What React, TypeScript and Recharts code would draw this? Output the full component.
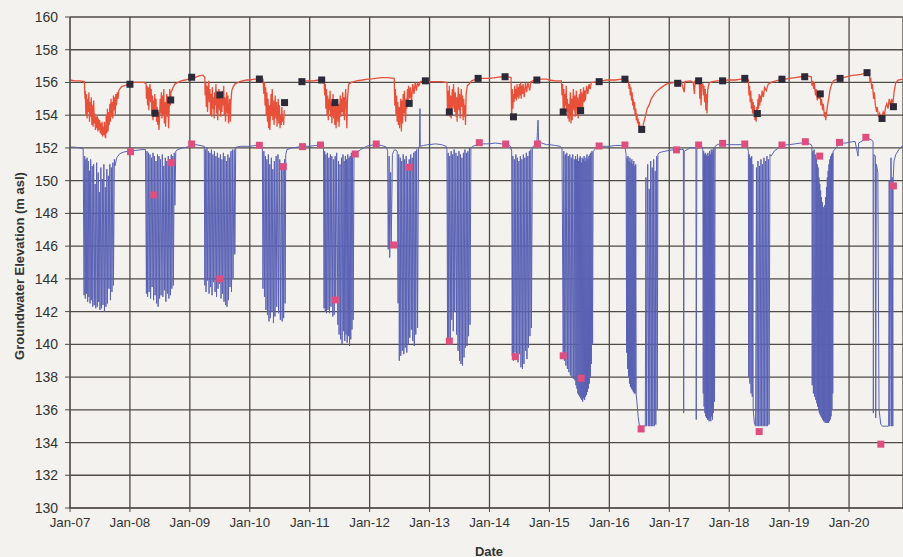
import { ComposedChart, Line, XAxis, YAxis, CartesianGrid } from "recharts";

type Pt = [number, number];

// deep piezometer (blue), read season by season
const blue07: Pt[] = [[2007.0,152.05],[2007.08,152.05],[2007.16,152.0],[2007.22,151.95],[2007.235,143.0],[2007.245,151.5],[2007.255,142.8],[2007.265,151.3],[2007.275,143.1],[2007.285,151.4],[2007.295,142.6],[2007.305,151.2],[2007.315,142.9],[2007.325,150.6],[2007.335,142.5],[2007.345,151.3],[2007.355,142.7],[2007.37,150.9],[2007.38,142.3],[2007.395,151.0],[2007.405,142.4],[2007.42,149.8],[2007.43,142.2],[2007.445,151.1],[2007.455,142.3],[2007.47,150.5],[2007.48,142.6],[2007.49,149.3],[2007.5,142.1],[2007.515,150.8],[2007.525,142.2],[2007.54,150.1],[2007.55,142.4],[2007.565,151.0],[2007.575,142.0],[2007.59,149.6],[2007.6,142.3],[2007.615,150.7],[2007.625,142.5],[2007.64,150.3],[2007.65,143.4],[2007.665,151.0],[2007.675,142.7],[2007.69,150.8],[2007.7,143.2],[2007.715,151.1],[2007.725,143.6],[2007.74,151.3],[2007.75,150.9],[2007.78,151.4],[2007.83,151.65],[2007.9,151.75],[2007.97,151.8]];
const blue08: Pt[] = [[2008.0,151.8],[2008.1,151.85],[2008.2,151.9],[2008.26,151.9],[2008.275,143.1],[2008.285,151.8],[2008.295,142.9],[2008.31,151.7],[2008.32,143.2],[2008.335,151.6],[2008.345,142.8],[2008.36,151.4],[2008.37,143.5],[2008.385,151.7],[2008.395,142.7],[2008.41,151.5],[2008.42,143.0],[2008.435,151.2],[2008.445,142.5],[2008.46,151.6],[2008.47,142.3],[2008.485,151.5],[2008.495,142.8],[2008.51,151.3],[2008.52,143.0],[2008.54,151.6],[2008.55,142.9],[2008.565,150.9],[2008.575,143.3],[2008.59,151.4],[2008.6,142.6],[2008.615,151.2],[2008.625,143.1],[2008.64,151.5],[2008.65,142.8],[2008.665,151.3],[2008.675,143.0],[2008.69,151.6],[2008.7,143.4],[2008.715,151.5],[2008.725,143.6],[2008.74,151.7],[2008.75,148.5],[2008.765,151.8],[2008.8,151.9],[2008.88,152.0],[2008.95,152.05]];
const blue09: Pt[] = [[2009.0,152.1],[2009.05,152.25],[2009.1,152.2],[2009.17,152.15],[2009.24,152.1],[2009.25,143.6],[2009.26,151.9],[2009.27,143.2],[2009.285,152.0],[2009.295,143.9],[2009.31,151.8],[2009.32,143.1],[2009.335,151.7],[2009.345,143.5],[2009.36,151.9],[2009.37,143.0],[2009.385,151.6],[2009.395,143.8],[2009.41,151.8],[2009.42,143.2],[2009.435,151.5],[2009.445,142.9],[2009.46,151.7],[2009.47,143.4],[2009.485,151.4],[2009.495,143.7],[2009.51,151.6],[2009.52,142.8],[2009.535,151.3],[2009.545,143.1],[2009.56,151.7],[2009.57,142.6],[2009.585,151.5],[2009.595,142.4],[2009.61,151.2],[2009.62,142.3],[2009.635,151.6],[2009.645,142.7],[2009.66,151.4],[2009.67,143.5],[2009.685,151.8],[2009.695,143.2],[2009.71,151.9],[2009.72,144.0],[2009.74,151.9],[2009.75,145.5],[2009.765,152.0],[2009.78,152.05],[2009.85,152.1],[2009.95,152.1]];
const blue10: Pt[] = [[2010.0,152.1],[2010.1,152.15],[2010.18,152.1],[2010.21,152.0],[2010.22,143.4],[2010.235,151.8],[2010.245,142.9],[2010.26,151.5],[2010.27,142.1],[2010.285,151.3],[2010.295,141.8],[2010.31,151.6],[2010.32,141.4],[2010.335,151.0],[2010.345,141.6],[2010.36,151.4],[2010.37,142.0],[2010.385,150.7],[2010.395,141.3],[2010.41,151.2],[2010.42,141.7],[2010.44,151.5],[2010.45,142.3],[2010.47,151.6],[2010.48,141.9],[2010.5,151.3],[2010.51,141.5],[2010.53,150.9],[2010.54,141.4],[2010.555,150.8],[2010.565,141.6],[2010.58,151.3],[2010.59,142.5],[2010.6,151.6],[2010.62,151.9],[2010.7,152.0],[2010.8,152.05],[2010.9,152.1]];
const blue11: Pt[] = [[2011.0,152.1],[2011.1,152.15],[2011.2,152.15],[2011.23,152.0],[2011.24,142.2],[2011.25,151.8],[2011.26,142.0],[2011.27,151.6],[2011.28,141.9],[2011.295,151.7],[2011.305,142.1],[2011.32,151.4],[2011.33,141.9],[2011.345,151.6],[2011.355,142.3],[2011.37,151.5],[2011.385,141.7],[2011.4,151.3],[2011.41,141.8],[2011.425,151.5],[2011.435,142.6],[2011.45,151.7],[2011.47,141.2],[2011.48,151.2],[2011.49,140.6],[2011.505,151.0],[2011.515,140.3],[2011.53,151.4],[2011.54,140.0],[2011.555,151.6],[2011.565,140.8],[2011.575,151.2],[2011.585,140.2],[2011.595,151.5],[2011.605,140.6],[2011.615,151.3],[2011.625,140.1],[2011.635,151.6],[2011.645,140.5],[2011.655,151.4],[2011.665,139.9],[2011.675,151.5],[2011.685,140.3],[2011.695,151.7],[2011.705,140.9],[2011.715,151.6],[2011.725,141.5],[2011.74,151.7],[2011.76,151.65],[2011.85,151.9],[2011.95,152.1]];
const blue12: Pt[] = [[2012.0,152.15],[2012.1,152.2],[2012.2,152.15],[2012.28,152.05],[2012.3,151.8],[2012.31,145.8],[2012.325,151.5],[2012.335,145.3],[2012.35,150.5],[2012.36,146.0],[2012.38,151.6],[2012.4,151.8],[2012.42,151.9],[2012.46,151.8],[2012.475,142.5],[2012.485,151.6],[2012.495,139.0],[2012.51,151.4],[2012.52,139.3],[2012.535,151.2],[2012.545,139.6],[2012.56,151.6],[2012.57,139.4],[2012.585,151.3],[2012.595,139.8],[2012.61,151.5],[2012.62,139.5],[2012.635,151.0],[2012.645,140.0],[2012.66,151.3],[2012.67,140.4],[2012.685,151.6],[2012.695,140.9],[2012.71,151.4],[2012.72,140.2],[2012.735,151.7],[2012.745,139.9],[2012.76,151.8],[2012.77,140.6],[2012.785,151.9],[2012.8,141.0],[2012.815,152.0],[2012.83,152.0],[2012.84,154.4],[2012.845,152.1],[2012.9,152.15],[2012.97,152.2]];
const blue13: Pt[] = [[2013.0,152.2],[2013.1,152.25],[2013.2,152.2],[2013.28,152.1],[2013.29,151.9],[2013.3,140.3],[2013.31,151.7],[2013.32,140.0],[2013.335,151.5],[2013.345,140.4],[2013.36,151.8],[2013.37,141.5],[2013.385,151.6],[2013.395,140.8],[2013.41,151.9],[2013.42,142.0],[2013.44,151.7],[2013.45,140.6],[2013.465,151.5],[2013.475,139.6],[2013.49,151.8],[2013.5,139.0],[2013.515,151.6],[2013.525,138.8],[2013.54,151.4],[2013.55,138.7],[2013.565,151.7],[2013.575,139.2],[2013.59,151.9],[2013.6,139.8],[2013.615,151.7],[2013.625,139.9],[2013.64,151.8],[2013.65,140.5],[2013.665,152.0],[2013.675,141.2],[2013.69,152.0],[2013.72,152.1],[2013.8,152.2],[2013.9,152.25]];
const blue14: Pt[] = [[2014.0,152.25],[2014.1,152.3],[2014.2,152.25],[2014.3,152.2],[2014.35,152.1],[2014.37,151.8],[2014.38,139.3],[2014.39,151.5],[2014.4,139.0],[2014.415,151.3],[2014.425,139.5],[2014.44,151.6],[2014.45,139.2],[2014.465,151.4],[2014.475,138.9],[2014.49,151.2],[2014.5,139.4],[2014.515,151.5],[2014.525,138.6],[2014.54,151.3],[2014.55,138.5],[2014.565,151.6],[2014.575,138.8],[2014.59,151.4],[2014.6,139.6],[2014.615,151.7],[2014.625,139.1],[2014.64,151.5],[2014.65,139.8],[2014.665,151.8],[2014.675,140.5],[2014.69,151.9],[2014.7,141.0],[2014.715,152.0],[2014.73,152.1],[2014.76,152.2],[2014.79,152.3],[2014.8,153.0],[2014.81,153.7],[2014.82,152.4],[2014.87,152.3],[2014.95,152.2]];
const blue15: Pt[] = [[2015.0,152.2],[2015.1,152.15],[2015.18,152.1],[2015.21,152.0],[2015.23,139.5],[2015.24,151.8],[2015.25,139.0],[2015.265,151.6],[2015.275,138.7],[2015.29,151.7],[2015.3,138.5],[2015.315,151.5],[2015.325,138.3],[2015.34,151.6],[2015.35,138.1],[2015.365,151.4],[2015.375,138.0],[2015.39,151.6],[2015.4,137.9],[2015.415,151.3],[2015.425,137.8],[2015.435,151.5],[2015.443,137.5],[2015.451,151.3],[2015.459,137.3],[2015.467,151.6],[2015.475,137.0],[2015.483,151.2],[2015.491,136.9],[2015.499,151.4],[2015.507,136.8],[2015.515,151.5],[2015.523,136.7],[2015.531,151.1],[2015.539,136.6],[2015.547,151.4],[2015.555,136.5],[2015.563,151.3],[2015.571,136.7],[2015.579,151.5],[2015.587,136.6],[2015.595,151.2],[2015.603,136.8],[2015.611,151.4],[2015.619,136.9],[2015.627,151.6],[2015.635,137.1],[2015.643,151.3],[2015.651,137.3],[2015.659,151.5],[2015.667,137.6],[2015.675,151.6],[2015.683,138.0],[2015.691,151.7],[2015.7,138.8],[2015.71,151.8],[2015.72,140.0],[2015.73,151.8],[2015.76,151.9],[2015.8,152.05],[2015.85,152.1],[2015.95,152.1]];
const blue16: Pt[] = [[2016.0,152.1],[2016.1,152.15],[2016.2,152.15],[2016.26,152.1],[2016.28,151.6],[2016.288,139.5],[2016.296,151.4],[2016.304,138.5],[2016.312,151.5],[2016.32,138.0],[2016.328,151.2],[2016.336,137.6],[2016.344,151.4],[2016.352,137.4],[2016.36,151.1],[2016.368,137.3],[2016.376,151.3],[2016.384,137.2],[2016.392,151.0],[2016.4,137.1],[2016.408,151.2],[2016.416,137.0],[2016.424,150.9],[2016.432,137.0],[2016.44,151.0],[2016.448,136.9],[2016.46,136.5],[2016.48,135.6],[2016.5,135.05],[2016.53,135.0],[2016.58,135.0],[2016.6,135.0],[2016.61,150.2],[2016.62,135.0],[2016.64,151.0],[2016.65,135.0],[2016.665,149.5],[2016.675,135.0],[2016.69,151.2],[2016.7,135.0],[2016.715,150.8],[2016.725,135.0],[2016.74,151.3],[2016.75,135.0],[2016.765,150.6],[2016.775,135.1],[2016.79,151.5],[2016.8,136.0],[2016.81,151.6],[2016.83,151.7],[2016.87,151.75],[2016.93,151.8]];
const blue17: Pt[] = [[2017.0,151.85],[2017.1,151.9],[2017.2,151.9],[2017.235,151.9],[2017.24,135.8],[2017.25,151.8],[2017.3,151.9],[2017.35,152.0],[2017.4,152.0],[2017.445,152.0],[2017.45,135.4],[2017.46,151.9],[2017.5,152.1],[2017.54,152.1],[2017.56,151.9],[2017.567,137.0],[2017.574,151.8],[2017.581,136.2],[2017.588,151.6],[2017.595,135.8],[2017.602,151.7],[2017.609,135.6],[2017.616,151.5],[2017.623,135.5],[2017.63,151.6],[2017.637,135.4],[2017.644,151.7],[2017.651,135.4],[2017.658,151.5],[2017.665,135.3],[2017.672,151.8],[2017.679,135.5],[2017.686,151.6],[2017.693,135.3],[2017.7,151.9],[2017.707,135.6],[2017.714,151.7],[2017.721,135.4],[2017.728,151.9],[2017.735,135.8],[2017.745,152.0],[2017.755,136.5],[2017.765,152.1],[2017.8,152.2],[2017.85,152.25],[2017.9,152.25],[2017.95,152.2]];
const blue18: Pt[] = [[2018.0,152.2],[2018.1,152.2],[2018.2,152.2],[2018.26,152.2],[2018.3,152.1],[2018.32,151.8],[2018.325,138.0],[2018.335,151.6],[2018.345,137.6],[2018.355,151.4],[2018.365,137.0],[2018.375,151.5],[2018.385,136.8],[2018.395,151.0],[2018.4,136.0],[2018.42,135.2],[2018.44,135.0],[2018.455,150.8],[2018.465,135.0],[2018.48,151.2],[2018.49,135.0],[2018.505,150.9],[2018.515,135.0],[2018.53,151.3],[2018.54,135.0],[2018.555,151.0],[2018.565,135.0],[2018.58,151.4],[2018.59,135.0],[2018.605,151.2],[2018.615,135.0],[2018.63,151.5],[2018.64,135.0],[2018.655,151.3],[2018.665,135.1],[2018.68,151.6],[2018.7,151.5],[2018.75,151.8],[2018.82,152.0],[2018.9,152.15],[2018.97,152.2]];
const blue19: Pt[] = [[2019.0,152.2],[2019.1,152.25],[2019.2,152.3],[2019.3,152.3],[2019.37,152.2],[2019.38,152.1],[2019.385,137.5],[2019.395,151.8],[2019.405,137.0],[2019.415,151.9],[2019.425,136.8],[2019.435,151.6],[2019.445,136.6],[2019.455,151.4],[2019.462,136.4],[2019.469,151.0],[2019.476,136.2],[2019.483,150.8],[2019.49,136.0],[2019.497,150.2],[2019.504,135.8],[2019.511,149.8],[2019.518,135.7],[2019.525,149.4],[2019.532,135.6],[2019.539,149.0],[2019.546,135.5],[2019.553,148.7],[2019.56,135.4],[2019.567,148.4],[2019.574,135.3],[2019.581,148.3],[2019.588,135.3],[2019.595,148.5],[2019.602,135.2],[2019.609,149.0],[2019.616,135.2],[2019.623,149.6],[2019.63,135.2],[2019.637,150.2],[2019.644,135.2],[2019.651,150.6],[2019.658,135.2],[2019.665,151.0],[2019.672,135.3],[2019.679,151.3],[2019.686,135.4],[2019.693,151.5],[2019.7,135.6],[2019.707,151.6],[2019.714,136.0],[2019.721,151.7],[2019.728,137.0],[2019.735,151.8],[2019.76,151.9],[2019.8,152.1],[2019.87,152.3],[2019.95,152.3]];
const blue20: Pt[] = [[2020.0,152.35],[2020.1,152.4],[2020.15,151.5],[2020.16,152.3],[2020.25,152.5],[2020.3,152.6],[2020.37,152.5],[2020.4,152.4],[2020.405,135.8],[2020.415,151.6],[2020.44,151.5],[2020.445,135.5],[2020.455,151.0],[2020.48,150.5],[2020.5,136.0],[2020.53,135.1],[2020.56,135.0],[2020.62,135.0],[2020.66,135.0],[2020.67,150.0],[2020.68,135.0],[2020.7,151.4],[2020.71,135.0],[2020.72,150.2],[2020.73,135.0],[2020.735,150.0],[2020.75,151.2],[2020.78,151.6],[2020.83,151.9],[2020.88,152.1],[2020.95,152.1]];

// shallow piezometer (red)
const red07: Pt[] = [[2007.0,156.15],[2007.08,156.1],[2007.16,156.1],[2007.24,156.05],[2007.25,155.0],[2007.255,155.5],[2007.265,154.0],[2007.275,155.3],[2007.285,153.8],[2007.295,155.0],[2007.305,154.2],[2007.315,155.4],[2007.325,153.6],[2007.335,154.8],[2007.345,153.9],[2007.355,155.1],[2007.365,153.4],[2007.375,154.6],[2007.385,153.3],[2007.395,154.9],[2007.405,153.5],[2007.415,154.1],[2007.425,153.1],[2007.435,153.9],[2007.445,153.2],[2007.455,154.0],[2007.465,153.0],[2007.475,153.8],[2007.485,153.1],[2007.495,153.7],[2007.505,152.9],[2007.515,153.5],[2007.525,152.8],[2007.535,153.6],[2007.545,152.7],[2007.555,153.3],[2007.565,152.8],[2007.575,153.6],[2007.585,152.7],[2007.595,152.6],[2007.605,154.0],[2007.615,152.9],[2007.625,154.4],[2007.635,153.0],[2007.645,154.2],[2007.655,153.4],[2007.665,154.7],[2007.675,153.6],[2007.685,155.0],[2007.695,153.9],[2007.705,154.8],[2007.715,153.8],[2007.725,155.2],[2007.735,154.3],[2007.745,155.1],[2007.755,154.0],[2007.765,155.3],[2007.775,154.6],[2007.79,155.4],[2007.8,155.0],[2007.815,155.5],[2007.83,155.6],[2007.86,155.75],[2007.91,155.8],[2007.97,155.9]];
const red08: Pt[] = [[2008.0,155.95],[2008.08,156.0],[2008.16,156.0],[2008.24,156.0],[2008.27,155.9],[2008.275,155.0],[2008.285,155.8],[2008.295,154.6],[2008.305,155.7],[2008.315,154.3],[2008.325,155.5],[2008.335,155.9],[2008.345,154.8],[2008.355,155.6],[2008.365,154.0],[2008.375,155.2],[2008.385,153.7],[2008.395,154.9],[2008.405,153.9],[2008.415,155.3],[2008.425,154.2],[2008.435,155.0],[2008.445,153.6],[2008.455,154.5],[2008.465,153.4],[2008.475,154.2],[2008.485,153.1],[2008.495,153.9],[2008.505,155.0],[2008.515,154.1],[2008.525,155.4],[2008.535,153.8],[2008.545,155.2],[2008.555,154.0],[2008.565,155.6],[2008.575,153.5],[2008.585,154.8],[2008.595,153.3],[2008.605,154.5],[2008.615,155.3],[2008.625,153.9],[2008.635,155.0],[2008.645,153.2],[2008.655,154.4],[2008.665,155.6],[2008.675,154.6],[2008.685,155.4],[2008.7,155.5],[2008.72,155.7],[2008.75,155.9],[2008.8,156.0],[2008.85,156.1],[2008.92,156.15],[2008.98,156.2]];
const red09: Pt[] = [[2009.0,156.3],[2009.08,156.3],[2009.15,156.4],[2009.22,156.45],[2009.25,156.3],[2009.255,155.2],[2009.265,156.0],[2009.275,154.5],[2009.285,155.8],[2009.295,154.2],[2009.305,155.5],[2009.315,156.1],[2009.325,154.8],[2009.335,155.6],[2009.345,154.0],[2009.355,155.3],[2009.365,153.9],[2009.375,155.7],[2009.385,154.4],[2009.395,155.1],[2009.405,153.8],[2009.415,155.4],[2009.425,154.6],[2009.435,155.9],[2009.445,154.1],[2009.455,155.2],[2009.465,153.7],[2009.475,154.9],[2009.485,155.6],[2009.495,154.3],[2009.505,155.3],[2009.515,153.9],[2009.525,155.0],[2009.535,154.2],[2009.545,155.5],[2009.555,154.6],[2009.565,155.8],[2009.575,154.0],[2009.585,155.1],[2009.595,153.6],[2009.605,154.7],[2009.615,155.4],[2009.625,154.1],[2009.635,155.2],[2009.645,153.5],[2009.655,154.4],[2009.665,155.0],[2009.675,153.6],[2009.685,154.8],[2009.7,155.5],[2009.72,155.7],[2009.75,155.9],[2009.8,156.0],[2009.87,156.1],[2009.95,156.15]];
const red10: Pt[] = [[2010.0,156.15],[2010.08,156.2],[2010.16,156.2],[2010.22,156.2],[2010.235,155.3],[2010.245,156.0],[2010.255,154.6],[2010.265,155.7],[2010.275,154.0],[2010.285,155.4],[2010.295,153.6],[2010.305,155.0],[2010.315,153.2],[2010.325,154.6],[2010.335,153.1],[2010.345,154.2],[2010.355,155.3],[2010.365,154.0],[2010.375,155.6],[2010.385,153.7],[2010.395,154.9],[2010.405,153.4],[2010.415,154.5],[2010.425,155.2],[2010.435,153.8],[2010.445,154.8],[2010.455,153.3],[2010.465,154.3],[2010.475,155.0],[2010.485,153.5],[2010.495,154.6],[2010.505,153.2],[2010.515,154.0],[2010.525,153.4],[2010.535,154.5],[2010.545,153.6],[2010.555,153.9],[2010.565,153.4],[2010.575,154.3]];
const red11: Pt[] = [[2010.85,156.05],[2010.95,156.1],[2011.05,156.1],[2011.15,156.15],[2011.24,156.1],[2011.25,155.2],[2011.26,155.9],[2011.27,154.4],[2011.28,155.6],[2011.29,154.0],[2011.3,155.2],[2011.31,153.7],[2011.32,155.0],[2011.33,154.3],[2011.34,155.5],[2011.35,153.9],[2011.36,154.8],[2011.37,153.5],[2011.38,154.5],[2011.39,155.3],[2011.4,153.8],[2011.41,154.9],[2011.42,153.4],[2011.43,154.6],[2011.44,153.2],[2011.45,154.2],[2011.46,155.0],[2011.47,153.6],[2011.48,154.7],[2011.49,153.3],[2011.5,154.4],[2011.51,155.2],[2011.52,153.9],[2011.53,155.0],[2011.54,154.2],[2011.55,155.4],[2011.56,154.0],[2011.57,155.1],[2011.58,153.7],[2011.59,154.9],[2011.6,155.6],[2011.62,153.2],[2011.63,155.0],[2011.65,155.9],[2011.7,156.0],[2011.78,156.1],[2011.88,156.15],[2011.97,156.2]];
const red12: Pt[] = [[2012.0,156.2],[2012.1,156.25],[2012.2,156.3],[2012.3,156.3],[2012.41,156.25],[2012.42,154.6],[2012.43,155.6],[2012.44,154.0],[2012.45,155.2],[2012.46,153.6],[2012.47,154.8],[2012.48,153.4],[2012.49,154.5],[2012.5,153.2],[2012.51,154.2],[2012.52,155.0],[2012.53,153.0],[2012.54,154.9],[2012.55,153.5],[2012.56,155.3],[2012.57,154.1],[2012.58,155.5],[2012.59,154.3],[2012.6,153.6],[2012.61,155.0],[2012.62,154.4],[2012.63,155.6],[2012.64,154.6],[2012.65,155.8],[2012.67,155.0],[2012.68,155.7],[2012.7,154.9],[2012.72,155.9],[2012.74,155.3],[2012.76,156.0],[2012.78,155.5],[2012.8,156.0],[2012.82,155.8],[2012.85,156.05],[2012.9,156.1],[2012.96,156.05]];
const red13: Pt[] = [[2013.0,156.05],[2013.1,156.05],[2013.2,156.05],[2013.29,156.0],[2013.3,154.0],[2013.31,155.5],[2013.32,154.3],[2013.33,155.8],[2013.34,153.9],[2013.35,155.2],[2013.36,153.8],[2013.37,154.9],[2013.38,155.6],[2013.39,154.4],[2013.4,155.9],[2013.41,155.0],[2013.42,154.2],[2013.43,155.4],[2013.44,153.9],[2013.45,155.1],[2013.46,153.6],[2013.47,154.8],[2013.48,155.7],[2013.49,154.3],[2013.5,155.3],[2013.51,153.8],[2013.52,154.9],[2013.53,155.6],[2013.54,154.5],[2013.55,155.2],[2013.56,153.7],[2013.57,155.0],[2013.58,153.9],[2013.59,154.6],[2013.6,153.4],[2013.61,155.3],[2013.63,155.8],[2013.66,155.9],[2013.7,156.1],[2013.78,156.2],[2013.88,156.25],[2013.95,156.25]];
const red14: Pt[] = [[2014.0,156.25],[2014.1,156.3],[2014.2,156.35],[2014.3,156.35],[2014.36,156.3],[2014.37,153.8],[2014.38,155.6],[2014.39,154.4],[2014.4,155.3],[2014.41,154.8],[2014.42,155.8],[2014.43,155.0],[2014.44,155.6],[2014.45,154.9],[2014.46,155.9],[2014.47,155.1],[2014.48,155.7],[2014.49,155.0],[2014.5,155.9],[2014.51,155.2],[2014.52,156.0],[2014.53,155.0],[2014.54,155.8],[2014.55,155.3],[2014.56,155.9],[2014.58,155.1],[2014.6,156.0],[2014.62,155.4],[2014.64,156.0],[2014.67,155.5],[2014.69,156.05],[2014.72,156.1],[2014.78,156.15],[2014.86,156.2],[2014.95,156.2]];
const red15: Pt[] = [[2015.0,156.15],[2015.1,156.1],[2015.2,156.1],[2015.21,155.2],[2015.22,155.9],[2015.23,154.4],[2015.24,155.6],[2015.25,154.0],[2015.26,155.3],[2015.27,154.6],[2015.28,155.8],[2015.29,154.2],[2015.3,155.0],[2015.31,153.8],[2015.32,154.7],[2015.33,153.6],[2015.34,154.5],[2015.35,155.4],[2015.36,153.5],[2015.37,155.0],[2015.38,153.7],[2015.39,154.8],[2015.4,155.6],[2015.41,154.3],[2015.42,155.2],[2015.43,153.9],[2015.44,154.9],[2015.45,155.5],[2015.46,154.0],[2015.47,155.1],[2015.48,153.8],[2015.49,154.6],[2015.5,155.3],[2015.51,154.2],[2015.52,155.6],[2015.53,154.5],[2015.54,155.4],[2015.55,154.1],[2015.56,155.0],[2015.57,155.7],[2015.58,154.8],[2015.59,155.5],[2015.6,154.9],[2015.62,155.8],[2015.64,155.3],[2015.66,155.9],[2015.68,155.6],[2015.7,156.0],[2015.73,156.0],[2015.8,156.05],[2015.88,156.1],[2015.95,156.15]];
const red16: Pt[] = [[2016.0,156.15],[2016.1,156.15],[2016.2,156.2],[2016.3,156.2],[2016.32,156.0],[2016.33,155.6],[2016.34,155.9],[2016.35,155.2],[2016.36,155.7],[2016.37,154.9],[2016.38,155.4],[2016.39,154.6],[2016.4,155.0],[2016.41,154.3],[2016.42,154.8],[2016.43,154.0],[2016.44,154.4],[2016.45,153.7],[2016.46,154.1],[2016.47,153.5],[2016.48,153.8],[2016.49,153.3],[2016.5,153.6],[2016.51,153.1],[2016.53,153.3],[2016.55,153.0],[2016.57,153.5],[2016.6,153.9],[2016.63,154.4],[2016.66,154.6],[2016.7,155.0],[2016.75,155.3],[2016.8,155.5],[2016.87,155.7],[2016.95,155.9]];
const red17: Pt[] = [[2017.0,155.95],[2017.1,156.0],[2017.2,156.05],[2017.25,155.4],[2017.26,156.05],[2017.35,156.1],[2017.4,156.0],[2017.42,155.3],[2017.43,156.1],[2017.46,156.1],[2017.48,156.05],[2017.5,156.1],[2017.51,155.0],[2017.52,156.0],[2017.53,154.6],[2017.54,155.8],[2017.56,155.9],[2017.57,155.2],[2017.58,155.8],[2017.59,154.8],[2017.6,155.6],[2017.61,154.3],[2017.62,155.3],[2017.63,154.1],[2017.64,155.5],[2017.66,155.9],[2017.68,156.0],[2017.72,156.05],[2017.8,156.1],[2017.9,156.1],[2017.97,156.15]];
const red18: Pt[] = [[2018.0,156.15],[2018.1,156.15],[2018.2,156.2],[2018.28,156.2],[2018.32,156.15],[2018.33,155.2],[2018.34,155.8],[2018.35,154.8],[2018.36,155.5],[2018.37,154.4],[2018.38,155.0],[2018.39,154.1],[2018.4,154.8],[2018.41,153.9],[2018.42,154.6],[2018.43,153.7],[2018.44,154.3],[2018.45,153.6],[2018.46,154.5],[2018.47,154.0],[2018.48,155.0],[2018.49,154.4],[2018.5,155.3],[2018.51,154.6],[2018.52,155.2],[2018.53,154.8],[2018.55,155.5],[2018.57,155.1],[2018.59,155.7],[2018.62,155.5],[2018.65,155.9],[2018.7,156.0],[2018.78,156.1],[2018.88,156.2],[2018.95,156.2]];
const red19: Pt[] = [[2019.0,156.25],[2019.1,156.3],[2019.2,156.35],[2019.3,156.4],[2019.37,156.35],[2019.38,155.8],[2019.39,156.1],[2019.41,155.6],[2019.42,156.0],[2019.44,155.2],[2019.45,155.6],[2019.47,154.9],[2019.48,155.4],[2019.5,155.0],[2019.51,155.5],[2019.53,154.6],[2019.54,155.0],[2019.56,154.3],[2019.57,154.7],[2019.59,153.9],[2019.6,154.2],[2019.61,153.7],[2019.62,154.0],[2019.64,154.6],[2019.66,155.0],[2019.68,155.5],[2019.71,155.9],[2019.74,156.1],[2019.8,156.2],[2019.9,156.3],[2019.97,156.35]];
const red20: Pt[] = [[2020.0,156.4],[2020.1,156.45],[2020.2,156.5],[2020.3,156.6],[2020.34,156.5],[2020.35,156.0],[2020.36,156.3],[2020.38,155.6],[2020.39,155.9],[2020.41,155.0],[2020.42,155.4],[2020.44,154.6],[2020.46,154.2],[2020.47,154.5],[2020.49,153.9],[2020.51,154.1],[2020.53,153.7],[2020.55,153.9],[2020.57,154.2],[2020.59,154.0],[2020.61,154.5],[2020.63,154.7],[2020.65,154.4],[2020.67,155.0],[2020.69,154.6],[2020.71,155.0],[2020.73,154.6],[2020.75,155.4],[2020.78,156.0],[2020.82,156.15],[2020.9,156.2]];

// manual readings
const manualShallow: Pt[] = [[2008.0,155.89],[2008.42,154.12],[2008.68,154.93],[2009.03,156.32],[2009.5,155.24],[2010.16,156.21],[2010.58,154.77],[2010.87,156.05],[2011.2,156.15],[2011.42,154.77],[2012.66,154.72],[2012.93,156.1],[2013.33,154.2],[2013.81,156.25],[2014.26,156.35],[2014.4,153.9],[2014.79,156.15],[2015.23,154.2],[2015.52,154.28],[2015.83,156.05],[2016.26,156.2],[2016.54,153.13],[2017.14,155.95],[2017.49,156.1],[2017.89,156.1],[2018.26,156.25],[2018.47,154.1],[2018.88,156.2],[2019.26,156.35],[2019.52,155.3],[2019.85,156.25],[2020.3,156.6],[2020.55,153.8],[2020.74,154.52]];
const manualDeep: Pt[] = [[2008.01,151.77],[2008.4,149.13],[2008.69,151.1],[2009.03,152.24],[2009.5,144.0],[2010.16,152.16],[2010.56,150.86],[2010.88,152.08],[2011.18,152.18],[2011.43,142.71],[2011.76,151.63],[2012.11,152.24],[2012.4,146.07],[2012.66,150.82],[2013.33,140.2],[2013.83,152.32],[2014.27,152.24],[2014.43,139.25],[2014.8,152.24],[2015.23,139.3],[2015.53,137.93],[2015.83,152.12],[2016.26,152.18],[2016.53,134.83],[2017.12,151.88],[2017.49,152.18],[2017.89,152.28],[2018.26,152.24],[2018.5,134.67],[2018.88,152.18],[2019.27,152.38],[2019.51,151.5],[2019.84,152.34],[2020.28,152.65],[2020.53,133.9],[2020.74,149.68]];

const yearTicks = [2007, 2008, 2009, 2010, 2011, 2012, 2013, 2014, 2015, 2016, 2017, 2018, 2019, 2020];
const elevTicks = [130, 132, 134, 136, 138, 140, 142, 144, 146, 148, 150, 152, 154, 156, 158, 160];

const toPts = (arr: Pt[]) => arr.map(([t, v]) => ({ t, v: v as number | null }));

const bluePts = toPts([...blue07, ...blue08, ...blue09, ...blue10, ...blue11, ...blue12, ...blue13, ...blue14, ...blue15, ...blue16, ...blue17, ...blue18, ...blue19, ...blue20]);
// logger gap late 2010 on the shallow well
const redPts = [...toPts([...red07, ...red08, ...red09, ...red10]), { t: 2010.7, v: null }, ...toPts([...red11, ...red12, ...red13, ...red14, ...red15, ...red16, ...red17, ...red18, ...red19, ...red20])];

const FONT = "'Liberation Sans', Arial, sans-serif";

const square = (fill: string) => (props: any) => {
  const { cx, cy, index } = props;
  if (cx == null || cy == null) return <g key={index} />;
  return <rect key={index} x={cx - 3.5} y={cy - 3.5} width={7} height={7} fill={fill} />;
};

export default function App() {
  return (
    <div style={{ position: "absolute", left: 0, top: 0, width: 903, height: 557, background: "#f4f2ee", overflow: "hidden", fontFamily: FONT }}>
      <ComposedChart width={903} height={557} margin={{ top: 17, right: 0, bottom: 19, left: 0 }}>
        <CartesianGrid stroke="#4f4b47" strokeWidth={1.3} />
        <XAxis
          type="number"
          dataKey="t"
          domain={[2007, 2020.9]}
          allowDataOverflow
          ticks={yearTicks}
          tickFormatter={(t: number) => `Jan-${String(t).slice(2)}`}
          height={30}
          tickSize={4}
          tickMargin={6}
          stroke="#4f4b47"
          tick={{ fontSize: 13.3, fill: "#333", fontFamily: FONT }}
        />
        <YAxis
          type="number"
          domain={[130, 160]}
          ticks={elevTicks}
          width={70}
          tickSize={5}
          tickMargin={7}
          stroke="#4f4b47"
          tick={{ fontSize: 14, fill: "#333", fontFamily: FONT }}
        />
        <Line data={bluePts} dataKey="v" type="linear" stroke="#5a62b4" strokeWidth={1} dot={false} isAnimationActive={false} />
        <Line data={redPts} dataKey="v" type="linear" stroke="#e8503a" strokeWidth={1.3} dot={false} connectNulls={false} isAnimationActive={false} />
        <Line data={toPts(manualDeep)} dataKey="v" stroke="none" dot={square("#de4f80")} activeDot={false} isAnimationActive={false} />
        <Line data={toPts(manualShallow)} dataKey="v" stroke="none" dot={square("#2c2a38")} activeDot={false} isAnimationActive={false} />
      </ComposedChart>
      <div style={{ position: "absolute", left: 18.5, top: 266, transform: "translate(-50%, -50%) rotate(-90deg)", whiteSpace: "nowrap", fontWeight: "bold", fontSize: 13, color: "#333" }}>
        Groundwater Elevation (m asl)
      </div>
      <div style={{ position: "absolute", left: 489, top: 551, transform: "translate(-50%, -50%)", fontWeight: "bold", fontSize: 13, color: "#333" }}>
        Date
      </div>
    </div>
  );
}
